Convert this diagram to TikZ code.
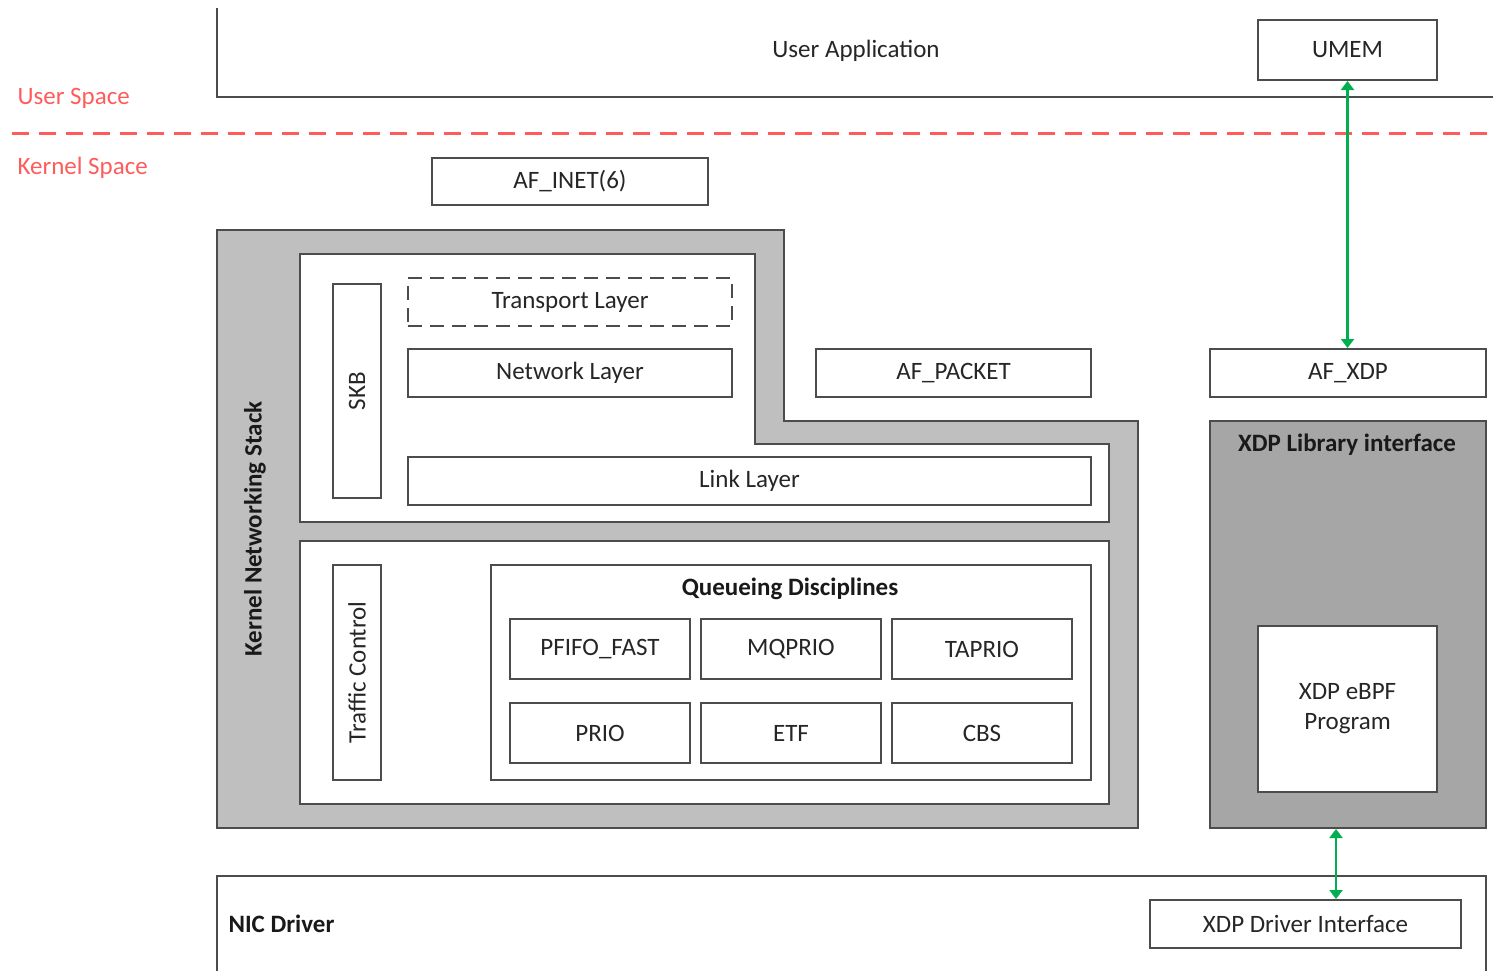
\documentclass[tikz,border=0pt]{standalone}
\usepackage{fontspec}
\setmainfont{Carlito}
\usepackage{tikz}
\usetikzlibrary{arrows.meta, positioning}
\definecolor{spacered}{HTML}{FF5B5B}
\definecolor{linkgreen}{HTML}{00B050}
\definecolor{stackgray}{HTML}{BFBFBF}
\definecolor{xdpgray}{HTML}{A6A6A6}
\tikzstyle{box} = [rectangle, draw=black!70, line width=2pt, fill=white, text=black!85, font=\fontsize{25}{30}\selectfont, inner sep=0pt, text centered]
\tikzstyle{layer} = [box, minimum width=324pt, minimum height=48pt]
\tikzstyle{qdisc} = [box, minimum width=180pt, minimum height=60pt]
\tikzstyle{label} = [text=black!85, font=\fontsize{25}{30}\selectfont]
\tikzstyle{title} = [text=black!90, font=\fontsize{25}{30}\selectfont\bfseries]
\tikzstyle{space} = [text=spacered, font=\fontsize{25}{30}\selectfont, anchor=west]
\tikzstyle{frame} = [draw=black!70, line width=2pt]
\tikzstyle{arrow} = [linkgreen, line width=2.5pt, {Triangle[width=13pt,length=9pt]}-{Triangle[width=13pt,length=9pt]}]

\begin{document}
\begin{tikzpicture}[x=1pt, y=-1pt]
    \useasboundingbox (0,0) rectangle (1493,970);
    % User space
    \draw [frame] (217,8) -- (217,97) -- (1493,97);
    \node (app) [label] at (856,51) {User Application};
    \node (umem) [box, minimum width=179pt, minimum height=60pt] at (1347.5,50) {UMEM};
    \draw [spacered, line width=3pt, dash pattern=on 17pt off 10pt] (12,133) -- (1493,133);
    \node (user) [space] at (14,98) {User Space};
    \node (kernel) [space] at (14,168) {Kernel Space};
    \node (inet) [box, minimum width=276pt, minimum height=47pt] at (570,181.5) {AF\_INET(6)};
    % Kernel networking stack
    \draw [frame, fill=stackgray] (217,230) -- (784,230) -- (784,421) -- (1138,421) -- (1138,828) -- (217,828) -- cycle;
    \draw [frame, fill=white] (300,254) -- (755,254) -- (755,444) -- (1109,444) -- (1109,522) -- (300,522) -- cycle;
    \draw [frame, fill=white] (300,541) rectangle (1109,804);
    \node (stack) [title, rotate=90] at (255,529) {Kernel Networking Stack};
    \node (skb) [box, minimum width=48pt, minimum height=214pt] at (357,391) {\rotatebox{90}{SKB}};
    \node (transport) [layer, dash pattern=on 14pt off 8pt] at (570,302) {Transport Layer};
    \node (network) [layer] at (570,373) {Network Layer};
    \node (link) [layer, minimum width=683pt] at (749.5,481) {Link Layer};
    \node (packet) [layer, minimum width=275pt] at (953.5,373) {AF\_PACKET};
    \node (tc) [box, minimum width=48pt, minimum height=215pt] at (357,672.5) {\rotatebox{90}{Traffic Control}};
    \node (qdiscs) [box, minimum width=600pt, minimum height=215pt] at (791,672.5) {};
    \node (qtitle) [title] at (790,589) {Queueing Disciplines};
    \node (pfifo) [qdisc] at (600,649) {PFIFO\_FAST};
    \node (mqprio) [qdisc, right=9pt of pfifo] {MQPRIO};
    \node (taprio) [qdisc, right=9pt of mqprio] {TAPRIO};
    \node (prio) [qdisc, below=22pt of pfifo] {PRIO};
    \node (etf) [qdisc, right=9pt of prio] {ETF};
    \node (cbs) [qdisc, right=9pt of etf] {CBS};
    % XDP
    \node (afxdp) [layer, minimum width=276pt] at (1348,373) {AF\_XDP};
    \node (xdplib) [box, fill=xdpgray, minimum width=276pt, minimum height=407pt] at (1348,624.5) {};
    \node (xdptitle) [title] at (1347,445) {XDP Library interface};
    \node (ebpf) [box, minimum width=179pt, minimum height=166pt, align=center] at (1347.5,709) {XDP eBPF\\Program};
    % NIC driver
    \draw [frame] (217,972) -- (217,876) -- (1486,876) -- (1486,972);
    \node (nic) [title, anchor=west] at (225,924) {NIC Driver};
    \node (xdpdrv) [box, minimum width=311pt, minimum height=48pt] at (1305.5,924) {XDP Driver Interface};
    % Arrows
    \draw [arrow] (umem.south) -- (umem.south |- afxdp.north);
    \draw [arrow] ([xshift=-12pt]xdplib.south) -- ([xshift=-12pt]xdplib.south |- xdpdrv.north);
\end{tikzpicture}
\end{document}
